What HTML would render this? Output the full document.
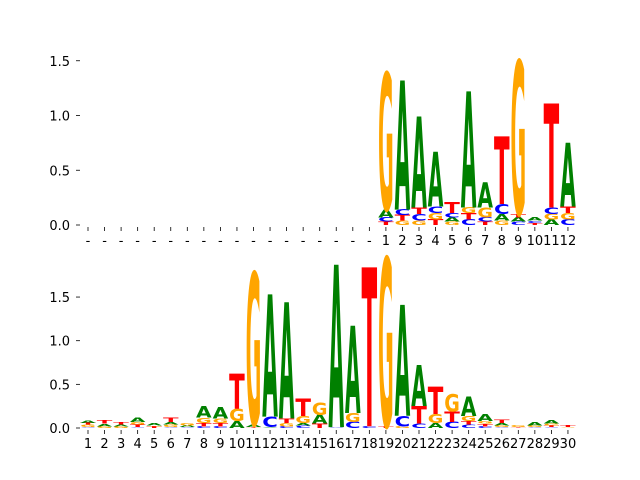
<!DOCTYPE html>
<html><head><meta charset="utf-8"><style>
html,body{margin:0;padding:0;background:#fff;}
svg{display:block;font-family:"DejaVu Sans","Liberation Sans",sans-serif;}
</style></head><body>
<svg id="chart" width="640" height="480" viewBox="0 0 640 480" xmlns="http://www.w3.org/2000/svg">
<g id="top"></g>
<g id="bot"></g>
</svg>
<script>
const topLabels = ["-","-","-","-","-","-","-","-","-","-","-","-","-","-","-","-","-","-","1","2","3","4","5","6","7","8","9","10","11","12"];
const botLabels = ["1","2","3","4","5","6","7","8","9","10","11","12","13","14","15","16","17","18","19","20","21","22","23","24","25","26","27","28","29","30"];
const yTicks = [0, 0.5, 1.0, 1.5];
const yTickLabels = ["0.0","0.5","1.0","1.5"];
// top motif: letter stacks bottom->top for positions 19..30
const topStacks = [
 [],[],[],[],[],[],[],[],[],[],[],[],[],[],[],[],[],[],
 [["T",.03],["C",.04],["A",.07],["G",1.25]],
 [["G",.04],["T",.05],["C",.05],["A",1.18]],
 [["G",.04],["C",.06],["T",.06],["A",.83]],
 [["T",.05],["G",.06],["C",.06],["A",.5]],
 [["G",.03],["A",.04],["C",.04],["T",.1]],
 [["C",.05],["T",.06],["G",.05],["A",1.06]],
 [["T",.03],["C",.04],["G",.09],["A",.23]],
 [["G",.04],["A",.06],["C",.09],["T",.62]],
 [["C",.03],["A",.04],["T",.03],["G",1.4]],
 [["T",.02],["C",.02],["A",.03]],
 [["A",.05],["G",.05],["C",.06],["T",.95]],
 [["C",.05],["G",.06],["T",.06],["A",.58]]
];
const botStacks = [
 [["C",.01],["G",.03],["T",.02],["A",.03]],
 [["G",.02],["A",.03],["T",.04]],
 [["G",.02],["A",.02],["T",.03]],
 [["C",.01],["T",.03],["G",.03],["A",.05]],
 [["T",.02],["G",.01],["A",.03]],
 [["C",.01],["G",.03],["A",.03],["T",.05]],
 [["C",.01],["A",.02],["G",.03]],
 [["C",.02],["T",.04],["G",.06],["A",.13]],
 [["C",.02],["T",.04],["G",.05],["A",.13]],
 [["A",.08],["G",.14],["T",.4]],
 [["T",.01],["A",.03],["G",1.74]],
 [["A",.01],["C",.12],["A",1.4]],
 [["C",.02],["G",.04],["T",.05],["A",1.33]],
 [["C",.03],["A",.03],["G",.08],["T",.2]],
 [["T",.05],["A",.1],["G",.14]],
 [["C",.01],["A",1.86]],
 [["C",.07],["G",.1],["A",1.0]],
 [["C",.02],["T",1.82]],
 [["T",.02],["G",1.93]],
 [["G",.02],["C",.12],["A",1.27]],
 [["C",.05],["T",.2],["A",.47]],
 [["A",.06],["G",.1],["T",.31]],
 [["C",.07],["T",.12],["G",.2]],
 [["C",.04],["T",.04],["G",.06],["A",.22]],
 [["C",.02],["T",.03],["G",.03],["A",.08]],
 [["C",.01],["G",.02],["A",.03],["T",.04]],
 [["T",.01],["G",.02]],
 [["C",.01],["G",.02],["A",.04]],
 [["C",.01],["T",.02],["G",.02],["A",.04]],
 [["G",.01],["T",.02]]
];
const colors = {A:"#008000",C:"#0000ff",G:"#ffa500",T:"#ff0000"};
const NS = "http://www.w3.org/2000/svg";
function xPos(i){ return 88 + i*16.55; }
function mk(tag, attrs, parent){ const e=document.createElementNS(NS,tag); for(const k in attrs) e.setAttribute(k,attrs[k]); parent.appendChild(e); return e; }
function drawPanel(g, stacks, labels, y0, unit, labelY, name){
  const yS = v => y0 - v*unit;
  yTicks.forEach((t,i)=>{
    const tk = mk("line",{x1:76,x2:80,y1:yS(t),y2:yS(t),stroke:"#000","stroke-width":0.8},g);
    
    
    const tl = mk("text",{x:70,y:yS(t)+5,"text-anchor":"end","font-size":13,fill:"#000"},g);
    tl.textContent = yTickLabels[i];
    
    
  });
  labels.forEach((lab,i)=>{
    const x = xPos(i);
    const tk = mk("line",{x1:x,x2:x,y1:y0+2,y2:y0+6,stroke:"#000","stroke-width":0.8},g);
    
    
    const tl = mk("text",{x:x,y:labelY,"text-anchor":"middle","font-size":13,fill:"#000"},g);
    tl.textContent = lab;
    
    
  });
  stacks.forEach((st,i)=>{
    let cum = 0;
    const w = 15.6, xl = xPos(i) - w/2;
    st.forEach(([L,h])=>{
      const yb = yS(cum), ht = h*unit;
      cum += h;
      if (ht <= 0) return;
      const t = mk("text",{x:0,y:0,"font-size":100,"font-weight":"bold",fill:colors[L],
        textLength:70,lengthAdjust:"spacingAndGlyphs",
        transform:`translate(${xl},${yb}) scale(${w/70},${ht/72.9})`},g);
      t.textContent = L;
      
      
    });
  });
}
drawPanel(document.getElementById("top"), topStacks, topLabels, 225, 109.5, 245, "top");
drawPanel(document.getElementById("bot"), botStacks, botLabels, 428, 87.3, 448, "bottom");
</script>
</body></html>
